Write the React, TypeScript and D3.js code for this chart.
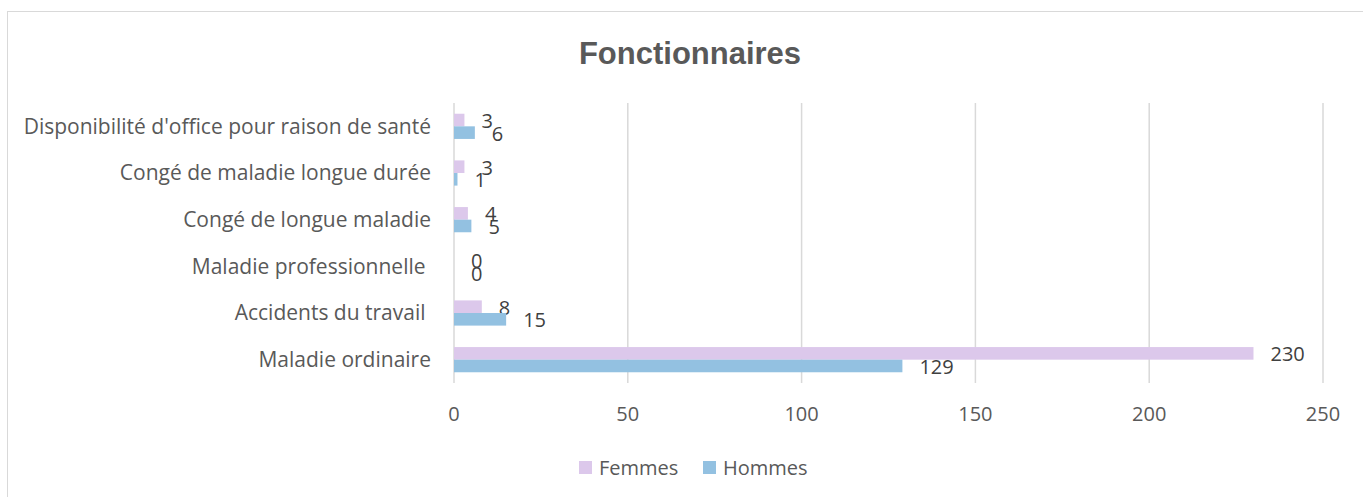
import React from "react";
import * as d3 from "d3";

const categories = [
  "Disponibilité d'office pour raison de santé",
  "Congé de maladie longue durée",
  "Congé de longue maladie",
  "Maladie professionnelle ",
  "Accidents du travail ",
  "Maladie ordinaire",
];
const femmes = [3, 3, 4, 0, 8, 230];
const hommes = [6, 1, 5, 0, 15, 129];
const xTicks = [0, 50, 100, 150, 200, 250];
const seriesNames = ["Femmes", "Hommes"];
const seriesColors = ["#DCC8EB", "#93C1E1"];
const title = "Fonctionnaires";

const W = 1363;
const H = 497;
const FONT = "'Open Sans', sans-serif";

export default function App() {
  const x = d3.scaleLinear().domain([0, 250]).range([454, 1323]);
  const y = d3
    .scaleBand<string>()
    .domain(categories)
    .range([103, 383])
    .paddingInner(0.46)
    .paddingOuter(0.23);
  const sub = d3.scaleBand<string>().domain(seriesNames).range([0, y.bandwidth()]);
  const series = [femmes, hommes];

  return (
    <svg
      width={W}
      height={H}
      style={{ position: "absolute", left: 0, top: 0, background: "#fff" }}
    >
      <rect x={7.5} y={11.5} width={W + 10} height={H + 10} fill="#fff" stroke="#D9D9D9" strokeWidth={1} />
      <text
        x={690}
        y={64}
        textAnchor="middle"
        fontFamily="'Liberation Sans', Arial, sans-serif"
        fontWeight="bold"
        fontSize={31}
        fill="#595959"
      >
        {title}
      </text>
      {xTicks.map((t) => (
        <g key={t}>
          <line x1={x(t)} x2={x(t)} y1={103} y2={383} stroke="#D9D9D9" strokeWidth={1.5} />
          <text x={x(t)} y={421} textAnchor="middle" fontFamily={FONT} fontSize={20} fill="#595959">
            {t}
          </text>
        </g>
      ))}
      {categories.map((c) => (
        <text
          key={c}
          x={431}
          y={(y(c) as number) + y.bandwidth() / 2}
          dy="0.35em"
          textAnchor="end"
          fontFamily={FONT}
          fontSize={21}
          fill="#595959"
          style={{ whiteSpace: "pre" }}
        >
          {c}
        </text>
      ))}
      {series.map((vals, si) =>
        categories.map((c, i) => {
          const by = (y(c) as number) + (sub(seriesNames[si]) as number);
          const bh = sub.bandwidth();
          return (
            <g key={c + si}>
              <rect x={x(0)} y={by} width={x(vals[i]) - x(0)} height={bh} fill={seriesColors[si]} />
              <text
                x={x(vals[i]) + 17}
                y={by + bh / 2 + 1}
                dy="0.35em"
                fontFamily={FONT}
                fontSize={20}
                fill="#404040"
              >
                {vals[i]}
              </text>
            </g>
          );
        })
      )}
      {seriesNames.map((s, i) => {
        const lx = [579, 703][i];
        return (
          <g key={s}>
            <rect x={lx} y={461} width={13} height={13} fill={seriesColors[i]} />
            <text x={lx + 20} y={467.5} dy="0.35em" fontFamily={FONT} fontSize={20} fill="#595959">
              {s}
            </text>
          </g>
        );
      })}
    </svg>
  );
}
